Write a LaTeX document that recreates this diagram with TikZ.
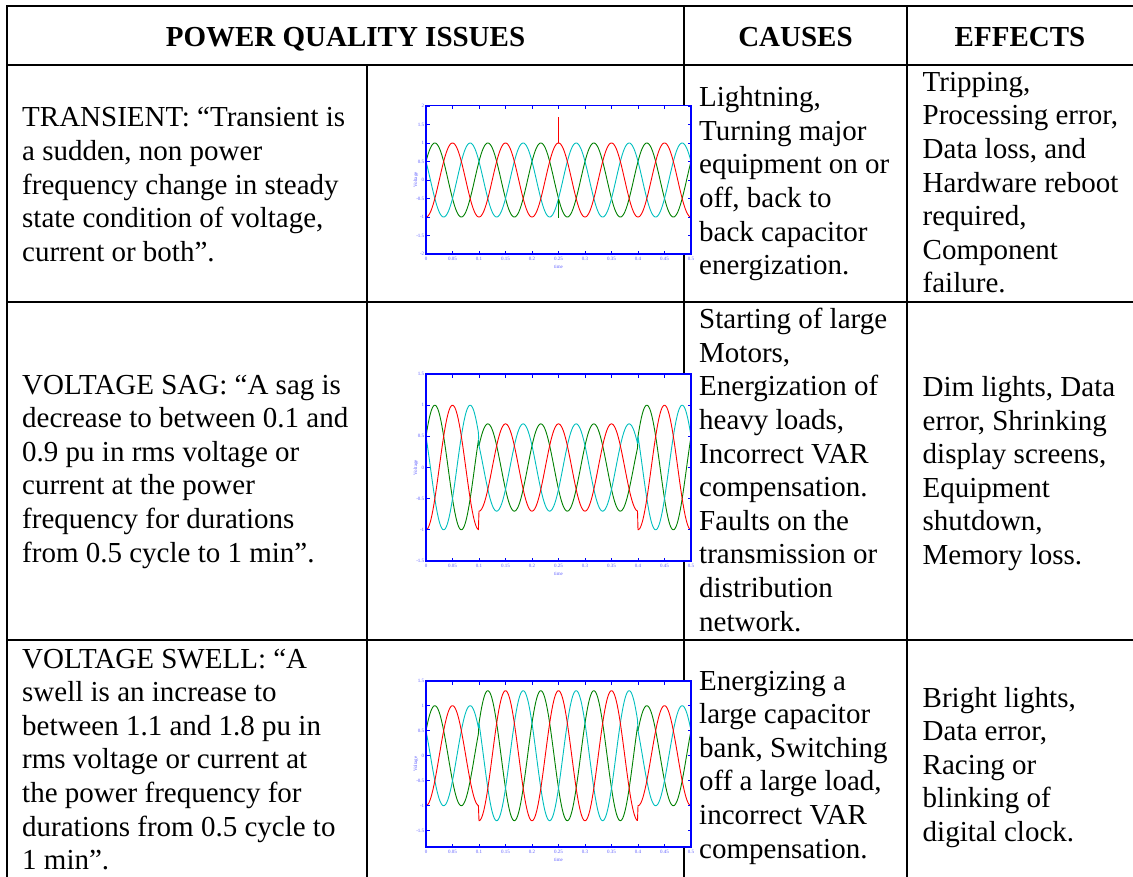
\documentclass[tikz,border=0pt]{standalone}
\usepackage{fontspec}
\setmainfont{Liberation Serif}

\newcommand\cellfont{\fontsize{29}{33.6}\selectfont}
\newcommand\headfont{\fontsize{29}{33.6}\selectfont\bfseries}
\newcommand\tinyfont{\fontsize{5}{5.5}\selectfont}

\definecolor{wred}{RGB}{255,0,0}
\definecolor{wgreen}{RGB}{0,128,0}
\definecolor{wcyan}{RGB}{0,191,191}
\definecolor{axblue}{RGB}{0,0,255}
\definecolor{lblblue}{RGB}{95,95,255}

\tikzset{
  rule/.style={line width=2.8pt, line cap=rect},
  celltext/.style={anchor=north west, inner sep=0pt, align=left, font=\cellfont},
  headtext/.style={anchor=base, inner sep=0pt, font=\headfont},
  wave/.style={line width=0.9pt, line join=round},
  axframe/.style={draw=axblue, line width=1.3pt},
  axtick/.style={draw=axblue, line width=0.8pt},
  ticklbl/.style={font=\tinyfont, text=lblblue, inner sep=0.6pt},
}

% axes box of a waveform plot: #1 top, #2 bottom, #3 zero level, #4 pt per unit, #5 y tick values
\newcommand\waveaxes[5]{%
  \draw[axframe] (426,#1) rectangle (691,#2);
  \foreach \i/\lbl in {0/0,1/0.05,2/0.1,3/0.15,4/0.2,5/0.25,6/0.3,7/0.35,8/0.4,9/0.45,10/0.5}{
    \pgfmathsetmacro\xx{426+26.5*\i}
    \draw[axtick] (\xx,#1) -- ++(0,3.5) (\xx,#2) -- ++(0,-3.5);
    \node[ticklbl, anchor=north] at (\xx,#2+2) {\lbl};
  }
  \foreach \v in {#5}{
    \pgfmathsetmacro\yy{#3-\v*#4}
    \draw[axtick] (426,\yy) -- ++(3.5,0) (691,\yy) -- ++(-3.5,0);
    \node[ticklbl, anchor=east] at (425,\yy) {\v};
  }
  \node[ticklbl, rotate=90] at (416,{(#1+#2)/2}) {Voltage};
  \node[ticklbl] at (558.5,#2+13) {time};
}

\begin{document}
\begin{tikzpicture}[x=1pt,y=-1pt]
\useasboundingbox (0,0) rectangle (1133,876);
\fill[white] (0,0) rectangle (1133,876);

% table rules
\draw[rule] (7,6) -- (1140,6);
\draw[rule] (7,65) -- (1140,65);
\draw[rule] (7,302) -- (1140,302);
\draw[rule] (7,640) -- (1140,640);
\draw[rule] (7,6) -- (7,885);
\draw[rule] (367,65) -- (367,885);
\draw[rule] (684,6) -- (684,885);
\draw[rule] (907,6) -- (907,885);

% header
\node[headtext] (hissues) at (345.5,46) {POWER QUALITY ISSUES};
\node[headtext] (hcauses) at (795.5,46) {CAUSES};
\node[headtext] (heffects) at (1020,46) {EFFECTS};

% row 1: transient
\node[celltext] (d1) at (22,103.2) {\strut TRANSIENT: “Transient is\\
\strut a sudden, non power\\
\strut frequency change in steady\\
\strut state condition of voltage,\\
\strut current or both”.};
\node[celltext] (c1) at (699,83) {\strut Lightning,\\
\strut Turning major\\
\strut equipment on or\\
\strut off, back to\\
\strut back capacitor\\
\strut energization.};
\node[celltext] (e1) at (922.5,67.5) {\strut Tripping,\\
\strut Processing error,\\
\strut Data loss, and\\
\strut Hardware reboot\\
\strut required,\\
\strut Component\\
\strut failure.};

% row 2: voltage sag
\node[celltext] (d2) at (22,370.3) {\strut VOLTAGE SAG: “A sag is\\
\strut decrease to between 0.1 and\\
\strut 0.9 pu in rms voltage or\\
\strut current at the power\\
\strut frequency for durations\\
\strut from 0.5 cycle to 1 min”.};
\node[celltext] (c2) at (699,305) {\strut Starting of large\\
\strut Motors,\\
\strut Energization of\\
\strut heavy loads,\\
\strut Incorrect VAR\\
\strut compensation.\\
\strut Faults on the\\
\strut transmission or\\
\strut distribution\\
\strut network.};
\node[celltext] (e2) at (922.5,372.8) {\strut Dim lights, Data\\
\strut error, Shrinking\\
\strut display screens,\\
\strut Equipment\\
\strut shutdown,\\
\strut Memory loss.};

% row 3: voltage swell
\node[celltext] (d3) at (22,644.3) {\strut VOLTAGE SWELL: “A\\
\strut swell is an increase to\\
\strut between 1.1 and 1.8 pu in\\
\strut rms voltage or current at\\
\strut the power frequency for\\
\strut durations from 0.5 cycle to\\
\strut 1 min”.};
\node[celltext] (c3) at (699,666.3) {\strut Energizing a\\
\strut large capacitor\\
\strut bank, Switching\\
\strut off a large load,\\
\strut incorrect VAR\\
\strut compensation.};
\node[celltext] (e3) at (922.5,683.3) {\strut Bright lights,\\
\strut Data error,\\
\strut Racing or\\
\strut blinking of\\
\strut digital clock.};

% plot 1: transient
\fill[white] (426,105.7) rectangle (691,254);
\begin{scope}[shift={(426,180)}, xscale=530, yscale=-37]
  \draw[wave,wgreen] plot[domain=0:0.5,samples=400] (\x,{cos(3600*\x-60)});
  \draw[wave,wcyan] plot[domain=0:0.5,samples=400] (\x,{cos(3600*\x-300)});
  \draw[wave,wred] plot[domain=0:0.5,samples=400] (\x,{cos(3600*\x-180)});
  \draw[wave,wcyan] (0.25,-0.5) -- (0.25,-0.62);
  \draw[wave,wgreen] (0.25,-0.5) -- (0.25,-1.03);
  \draw[wave,wred] (0.25,1) -- (0.25,1.71);
\end{scope}
\waveaxes{105.7}{254}{180}{37}{2,1.5,1,0.5,0,-0.5,-1,-1.5,-2}

% plot 2: voltage sag
\fill[white] (426,374) rectangle (691,561);
\begin{scope}[shift={(426,467.5)}, xscale=530, yscale=-62.3]
  \foreach \col/\ph in {wgreen/60,wcyan/300,wred/180}{
    \draw[wave,\col] plot[domain=0:0.1,samples=80] (\x,{cos(3600*\x-\ph)})
      -- plot[domain=0.1:0.4,samples=240] (\x,{0.7*cos(3600*\x-\ph)})
      -- plot[domain=0.4:0.5,samples=80] (\x,{cos(3600*\x-\ph)});
  }
\end{scope}
\waveaxes{374}{561}{467.5}{62.3}{1.5,1,0.5,0,-0.5,-1,-1.5}

% plot 3: voltage swell
\fill[white] (426,681) rectangle (691,847);
\begin{scope}[shift={(426,755.7)}, xscale=530, yscale=-50]
  \foreach \col/\ph in {wgreen/60,wcyan/300,wred/180}{
    \draw[wave,\col] plot[domain=0:0.1,samples=80] (\x,{cos(3600*\x-\ph)})
      -- plot[domain=0.1:0.4,samples=240] (\x,{1.3*cos(3600*\x-\ph)})
      -- plot[domain=0.4:0.5,samples=80] (\x,{cos(3600*\x-\ph)});
  }
\end{scope}
\waveaxes{681}{847}{755.7}{50}{1.5,1,0.5,0,-0.5,-1,-1.5}

\end{tikzpicture}
\end{document}
